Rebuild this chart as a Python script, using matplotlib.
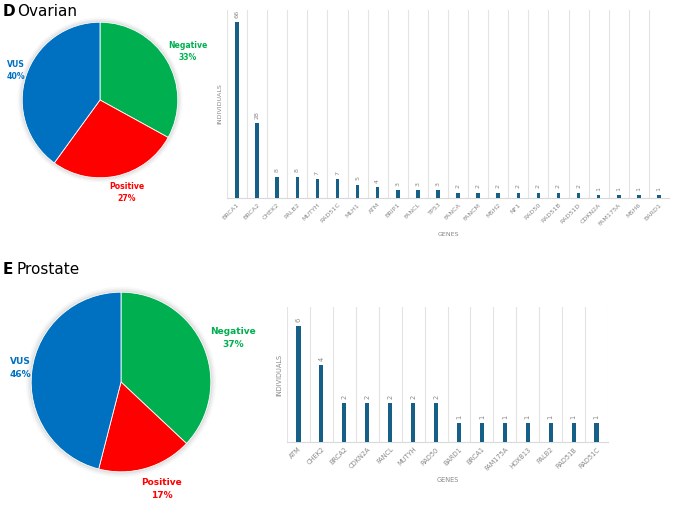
import numpy as np
from matplotlib import pyplot as plt
from matplotlib.patches import Circle

# pie data
pie_labels = ['Negative', 'Positive', 'VUS']
pie_colors = ['#00B050', '#FF0000', '#0070C0']
ovarian_pct = [33, 27, 40]
prostate_pct = [37, 17, 46]

# bar data
ovarian_genes = ['BRCA1', 'BRCA2', 'CHEK2', 'PALB2', 'MUTYH', 'RAD51C', 'MLH1', 'ATM',
                 'BRIP1', 'FANCL', 'TP53', 'FANCA', 'FANCM', 'MSH2', 'NF1', 'RAD50',
                 'RAD51B', 'RAD51D', 'CDKN2A', 'FAM175A', 'MSH6', 'BARD1']
ovarian_counts = [66, 28, 8, 8, 7, 7, 5, 4, 3, 3, 3, 2, 2, 2, 2, 2, 2, 2, 1, 1, 1, 1]
prostate_genes = ['ATM', 'CHEK2', 'BRCA2', 'CDKN2A', 'FANCL', 'MUTYH', 'RAD50', 'BARD1',
                  'BRCA1', 'FAM175A', 'HOXB13', 'PALB2', 'RAD51B', 'RAD51C']
prostate_counts = [6, 4, 2, 2, 2, 2, 2, 1, 1, 1, 1, 1, 1, 1]

W, H = 677, 512
BAR_COLOR = '#165f87'
GRAY = '#8a8a8a'


def box(l, t, r, b):
    return [l / W, 1 - b / H, (r - l) / W, (b - t) / H]


def draw_pie(ax, pct, fs, dist, dx, ls):
    # soft shadow
    for k, a in zip([1.06, 1.04, 1.02], [0.05, 0.08, 0.12]):
        ax.add_patch(Circle((0, 0), k, color='gray', alpha=a, lw=0, zorder=0))
    texts = ['%s\n%d%%' % (l, p) for l, p in zip(pie_labels, pct)]
    wedges, lbls = ax.pie(pct, colors=pie_colors, startangle=90, counterclock=False,
                          labels=texts, labeldistance=dist,
                          wedgeprops=dict(linewidth=0.6, edgecolor='white'))
    for t, c in zip(lbls, pie_colors):
        px, py = t.get_position()
        t.set_position((px + dx, py))
        t.set_ha('center')
        t.set_va('center')
        t.set_color(c)
        t.set_fontweight('bold')
        t.set_fontsize(fs)
        t.set_linespacing(ls)
    ax.set_xlim(-1.08, 1.08)
    ax.set_ylim(-1.08, 1.08)
    ax.set_aspect('equal')


def draw_bars(ax, genes, counts, ymax, fs):
    x = np.arange(len(genes))
    ax.bar(x, counts, width=0.18, color=BAR_COLOR, zorder=3)
    for i, v in zip(x, counts):
        ax.annotate(str(v), (i, v), xytext=(0, 3), textcoords='offset points',
                    rotation=90, ha='center', va='bottom', fontsize=fs, color=GRAY)
    ax.set_xlim(-0.5, len(genes) - 0.5)
    ax.set_ylim(0, ymax)
    ax.set_xticks(x)
    ax.set_xticklabels(genes, rotation=45, ha='right', rotation_mode='anchor',
                       fontsize=fs, color=GRAY)
    ax.set_xticks(np.arange(-0.5, len(genes)), minor=True)
    ax.grid(which='minor', axis='x', color='#e3e3e3', lw=0.8, zorder=0)
    ax.tick_params(axis='x', which='both', length=0, pad=3)
    ax.set_yticks([])
    for s in ['top', 'right', 'left']:
        ax.spines[s].set_visible(False)
    ax.spines['bottom'].set_color('#d9d9d9')
    ax.set_ylabel('INDIVIDUALS', fontsize=fs, color=GRAY, labelpad=3)
    ax.set_xlabel('GENES', fontsize=fs, color=GRAY, labelpad=4)


fig = plt.figure(figsize=(W / 100, H / 100), dpi=100)

ax1 = fig.add_axes(box(16, 16, 184, 184))
draw_pie(ax1, ovarian_pct, 5.6, 1.22, 0.08, 1.5)
ax2 = fig.add_axes(box(227, 10, 669, 198))
draw_bars(ax2, ovarian_genes, ovarian_counts, 70.5, 4.6)

ax3 = fig.add_axes(box(24, 285, 218, 479))
draw_pie(ax3, prostate_pct, 6.5, 1.24, 0.11, 1.6)
ax4 = fig.add_axes(box(287, 307, 608, 442))
draw_bars(ax4, prostate_genes, prostate_counts, 7.0, 4.8)

fig.text(3 / W, 1 - 12 / H, 'D', fontsize=11, fontweight='bold', va='center')
fig.text(17 / W, 1 - 12 / H, 'Ovarian', fontsize=11, va='center')
fig.text(3 / W, 1 - 270 / H, 'E', fontsize=11, fontweight='bold', va='center')
fig.text(17 / W, 1 - 270 / H, 'Prostate', fontsize=11, va='center')

fig.savefig('out.png', dpi=100)
